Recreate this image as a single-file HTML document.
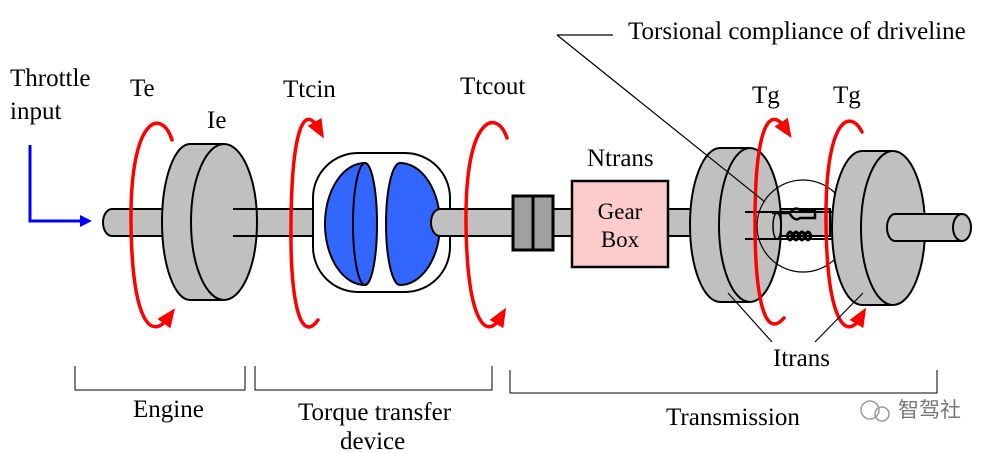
<!DOCTYPE html>
<html><head><style>body{margin:0;background:#fff}svg{display:block}text{font-family:"Liberation Serif",serif;fill:#000}</style></head><body>
<svg width="1005" height="453" viewBox="0 0 1005 453" xmlns="http://www.w3.org/2000/svg">
<defs>
<marker id="ar" markerWidth="20" markerHeight="20" refX="7" refY="10" orient="auto" markerUnits="userSpaceOnUse"><path d="M0,2 L19,10 L0,18 z" fill="#f00"/></marker>
</defs>
<path d="M112 209 H830 V236 H112 A9 13.5 0 0 1 112 209 Z" fill="#c0c0c0" stroke="#000" stroke-width="2"/>
<g stroke="#000" stroke-width="2" fill="#c0c0c0">
<ellipse cx="190" cy="222" rx="28" ry="78"/>
<rect x="190" y="145" width="34" height="155" stroke="none"/>
<line x1="190" y1="144" x2="224" y2="144"/><line x1="190" y1="300" x2="224" y2="300"/>
<ellipse cx="224" cy="222" rx="33" ry="78"/>
</g>
<line x1="233" y1="209" x2="257" y2="209" stroke="#000" stroke-width="2"/>
<line x1="233" y1="236" x2="257" y2="236" stroke="#000" stroke-width="2"/>
<rect x="313" y="153" width="137" height="139" rx="45" fill="#fff" stroke="#000" stroke-width="2"/>
<path d="M365 163 A40 61 0 0 0 365 285 Z" fill="#3366ff" stroke="#000" stroke-width="2"/>
<ellipse cx="365" cy="224" rx="12" ry="61" fill="#3366ff" stroke="#000" stroke-width="2"/>
<path d="M400 163 A40 61 0 0 1 400 285 A14 61 0 0 1 400 163 Z" fill="#3366ff" stroke="#000" stroke-width="2"/>
<path d="M450 209 H440 A9 13.5 0 0 0 440 236 H450" fill="#c0c0c0" stroke="#000" stroke-width="2"/>
<rect x="445" y="210" width="68" height="25" fill="#c0c0c0"/>
<line x1="440" y1="209" x2="513" y2="209" stroke="#000" stroke-width="2"/>
<line x1="440" y1="236" x2="513" y2="236" stroke="#000" stroke-width="2"/>
<rect x="513" y="196" width="20" height="54" fill="#a0a0a0" stroke="#000" stroke-width="3"/>
<rect x="533" y="196" width="20" height="54" fill="#a0a0a0" stroke="#000" stroke-width="3"/>
<rect x="572" y="181" width="96" height="86" fill="#fccccc" stroke="#000" stroke-width="2.5"/>
<text x="620" y="219" font-size="23" text-anchor="middle">Gear</text>
<text x="620" y="247" font-size="23" text-anchor="middle">Box</text>
<g stroke="#000" stroke-width="2" fill="#c0c0c0">
<ellipse cx="720" cy="225" rx="30" ry="77"/>
<rect x="720" y="148" width="30" height="154" stroke="none"/>
<line x1="720" y1="148" x2="750" y2="148"/><line x1="720" y1="302" x2="750" y2="302"/>
<ellipse cx="750" cy="225" rx="31" ry="77"/>
</g>
<circle cx="803" cy="226" r="46" fill="none" stroke="#000" stroke-width="1.2"/>
<line x1="745" y1="212" x2="835" y2="212" stroke="#000" stroke-width="2"/>
<line x1="745" y1="239" x2="835" y2="239" stroke="#000" stroke-width="2"/>
<ellipse cx="777" cy="226" rx="4" ry="13" fill="none" stroke="#000" stroke-width="1.5"/>
<path d="M772 213 H790 M790 213 Q795 206 800 210 H815 V218 H800 Q795 222 790 214" fill="none" stroke="#000" stroke-width="2.5"/>
<path d="M787 236 q3 -8 6 0 q3 -8 6 0 q3 -8 6 0 q3 -8 6 0 M787 236 q3 8 6 0 q3 8 6 0 q3 8 6 0 q3 8 6 0" fill="none" stroke="#000" stroke-width="3"/>
<g stroke="#000" stroke-width="2" fill="#c0c0c0">
<ellipse cx="862" cy="228" rx="30" ry="77"/>
<rect x="862" y="151" width="31" height="154" stroke="none"/>
<line x1="862" y1="151" x2="893" y2="151"/><line x1="862" y1="305" x2="893" y2="305"/>
<ellipse cx="893" cy="228" rx="32" ry="77"/>
</g>
<path d="M962 214 H895 A8 13.5 0 0 0 895 241 H962" fill="#c0c0c0" stroke="#000" stroke-width="2"/>
<ellipse cx="962" cy="227.5" rx="9" ry="13.5" fill="#c0c0c0" stroke="#000" stroke-width="2"/>
<g fill="none" stroke="#f00" stroke-width="3.5" stroke-linecap="round">
<path d="M172 140 C162 108 130 115 131 222 C132 325 152 340 168 318" marker-end="url(#ar)"/>
<path d="M318 320 C300 345 290 300 291 222 C292 125 305 105 318 128" marker-end="url(#ar)"/>
<path d="M507 138 C497 108 465 115 466 222 C467 325 487 340 500 318" marker-end="url(#ar)"/>
<path d="M784 318 C765 340 755 300 755 222 C755 125 770 105 785 128" marker-end="url(#ar)"/>
<path d="M862 132 C850 108 825 118 826 222 C827 325 847 340 860 318" marker-end="url(#ar)"/>
</g>
<path d="M30 145 V221 H85" fill="none" stroke="#0000ff" stroke-width="3"/>
<path d="M92 221 L80 215 L80 227 Z" fill="#0000ff"/>
<g stroke="#000" stroke-width="1.2">
<line x1="557" y1="35" x2="613" y2="35"/>
<line x1="557" y1="35" x2="765" y2="202"/>
<line x1="728" y1="293" x2="772" y2="342"/>
<line x1="863" y1="293" x2="815" y2="342"/>
</g>
<g fill="none" stroke="#000" stroke-width="1">
<path d="M75 366 V390 H245 V366"/>
<path d="M255 366 V390 H492 V366"/>
<path d="M510 370 V393 H937 V370"/>
</g>
<g font-size="25">
<text x="10" y="86">Throttle</text>
<text x="10" y="119">input</text>
<text x="130" y="96">Te</text>
<text x="207" y="128">Ie</text>
<text x="283" y="97">Ttcin</text>
<text x="460" y="94">Ttcout</text>
<text x="587" y="166">Ntrans</text>
<text x="752" y="103">Tg</text>
<text x="833" y="103">Tg</text>
<text x="628" y="39">Torsional compliance of driveline</text>
<text x="773" y="366">Itrans</text>
<text x="133" y="417">Engine</text>
<text x="298" y="420">Torque transfer</text>
<text x="340" y="449">device</text>
<text x="666" y="425">Transmission</text>
</g>
<text x="898" y="417" font-size="21" style="font-family:'Noto Sans CJK SC',sans-serif;fill:#777">智驾社</text>
<circle cx="870" cy="410" r="9" fill="none" stroke="#999" stroke-width="1.5"/>
<circle cx="882" cy="414" r="7" fill="none" stroke="#999" stroke-width="1.5"/>
</svg>
</body></html>
